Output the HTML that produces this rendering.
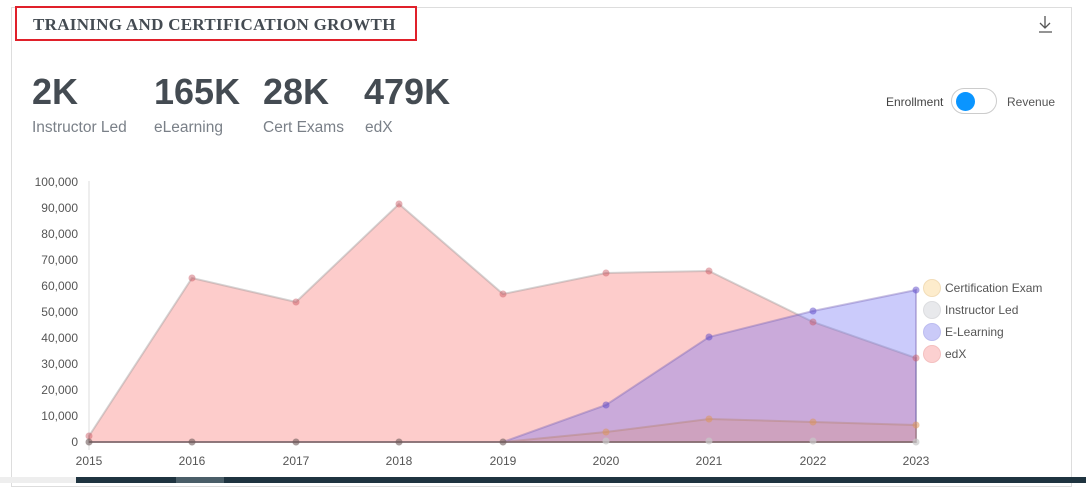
<!DOCTYPE html>
<html><head><meta charset="utf-8"><style>
body{margin:0;width:1086px;height:483px;background:#fff;position:relative;overflow:hidden;font-family:"Liberation Sans",sans-serif}
.card{position:absolute;left:11px;top:7px;width:1061px;height:480px;border:1px solid #ddd;box-sizing:border-box}
.title{position:absolute;left:15px;top:6px;width:402px;height:35px;border:2px solid #e0202a;box-sizing:border-box}
.title span{position:absolute;left:16px;top:7px;font-family:"Liberation Serif",serif;font-weight:bold;font-size:17px;color:#444b52;letter-spacing:0.3px}
.big{position:absolute;top:71px;font-size:36px;font-weight:bold;color:#444b52}
.lab{position:absolute;top:119px;font-size:15.5px;color:#7a8088}
.bar{position:absolute;left:76px;top:477px;width:1010px;height:6px;background:#1f3440}
</style></head><body>
<div class="card"></div>
<div class="title"><span>TRAINING AND CERTIFICATION GROWTH</span></div>
<svg width="20" height="20" style="position:absolute;left:1036px;top:14px"><path d="M9 2 V14 M4 9 L9 14 L14 9 M3 18 H16" stroke="#555" stroke-width="1.3" fill="none"/></svg>
<div class="big" style="left:32px">2K</div><div class="lab" style="left:32px">Instructor Led</div>
<div class="big" style="left:154px">165K</div><div class="lab" style="left:154px">eLearning</div>
<div class="big" style="left:263px">28K</div><div class="lab" style="left:263px">Cert Exams</div>
<div class="big" style="left:364px">479K</div><div class="lab" style="left:365px">edX</div>
<div style="position:absolute;left:886px;top:95px;font-size:12px;color:#444">Enrollment</div>
<div style="position:absolute;left:951px;top:88px;width:46px;height:26px;border:1px solid #ccc;border-radius:14px;box-sizing:border-box"><div style="position:absolute;left:4px;top:3px;width:19px;height:19px;border-radius:50%;background:#0a95ff"></div></div>
<div style="position:absolute;left:1007px;top:95px;font-size:12px;color:#555">Revenue</div>
<div style="position:absolute;left:0;top:477px;width:76px;height:6px;background:#eee"></div>
<div class="bar"></div><div style="position:absolute;left:176px;top:477px;width:48px;height:6px;background:#4a5e68"></div>
<svg width="1086" height="483" style="position:absolute;left:0;top:0" font-family="Liberation Sans, sans-serif" font-size="12" fill="#555">
<line x1="89" y1="181" x2="89" y2="450" stroke="#ddd"/>
<g text-anchor="end">
<text x="78" y="186">100,000</text><text x="78" y="212">90,000</text><text x="78" y="238">80,000</text><text x="78" y="264">70,000</text><text x="78" y="290">60,000</text><text x="78" y="316">50,000</text><text x="78" y="342">40,000</text><text x="78" y="368">30,000</text><text x="78" y="394">20,000</text><text x="78" y="420">10,000</text><text x="78" y="446">0</text></g>
<g text-anchor="middle">
<text x="89" y="465">2015</text><text x="192" y="465">2016</text><text x="296" y="465">2017</text><text x="399" y="465">2018</text><text x="503" y="465">2019</text><text x="606" y="465">2020</text><text x="709" y="465">2021</text><text x="813" y="465">2022</text><text x="916" y="465">2023</text></g>
<polygon points="89,442 89,436 192,278 296,302 399,204 503,294 606,273 709,271 813,322 916,358 916,442" fill="rgba(250,120,118,0.38)" stroke="rgba(150,150,150,0.4)" stroke-width="2"/>
<polygon points="89,442 503,442 606,405 709,337 813,311 916,290 916,442" fill="rgba(110,110,245,0.36)" stroke="rgba(120,100,180,0.4)" stroke-width="2"/>
<polygon points="89,442 503,442 606,432 709,419 813,422 916,425 916,442" fill="rgba(220,140,110,0.25)" stroke="rgba(180,130,110,0.4)" stroke-width="2"/>
<line x1="89" y1="442" x2="916" y2="442" stroke="rgba(120,100,100,0.6)" stroke-width="2"/>
<g fill="rgba(200,80,90,0.45)"><circle cx="89" cy="436" r="3.5"/><circle cx="192" cy="278" r="3.5"/><circle cx="296" cy="302" r="3.5"/><circle cx="399" cy="204" r="3.5"/><circle cx="503" cy="294" r="3.5"/><circle cx="606" cy="273" r="3.5"/><circle cx="709" cy="271" r="3.5"/><circle cx="813" cy="322" r="3.5"/><circle cx="916" cy="358" r="3.5"/></g>
<g fill="rgba(90,70,200,0.5)"><circle cx="606" cy="405" r="3.5"/><circle cx="709" cy="337" r="3.5"/><circle cx="813" cy="311" r="3.5"/><circle cx="916" cy="290" r="3.5"/></g>
<g fill="rgba(220,150,90,0.55)"><circle cx="606" cy="432" r="3.5"/><circle cx="709" cy="419" r="3.5"/><circle cx="813" cy="422" r="3.5"/><circle cx="916" cy="425" r="3.5"/></g>
<g fill="rgba(110,90,90,0.6)"><circle cx="89" cy="442" r="3.5"/><circle cx="192" cy="442" r="3.5"/><circle cx="296" cy="442" r="3.5"/><circle cx="399" cy="442" r="3.5"/><circle cx="503" cy="442" r="3.5"/></g>
<g fill="rgba(200,200,200,0.7)"><circle cx="606" cy="441" r="3.5"/><circle cx="709" cy="441" r="3.5"/><circle cx="813" cy="441" r="3.5"/><circle cx="916" cy="442" r="3.5"/></g>
<circle cx="932" cy="288" r="8.5" fill="#fdeccc" stroke="#f2ddb8"/><text x="945" y="292">Certification Exam</text>
<circle cx="932" cy="310" r="8.5" fill="#e8e9ec" stroke="#dcdde0"/><text x="945" y="314">Instructor Led</text>
<circle cx="932" cy="332" r="8.5" fill="#cacaf8" stroke="#bdbdf0"/><text x="945" y="336">E-Learning</text>
<circle cx="932" cy="354" r="8.5" fill="#fcd0d0" stroke="#f4c0c0"/><text x="945" y="358">edX</text>
</svg>
</body></html>
